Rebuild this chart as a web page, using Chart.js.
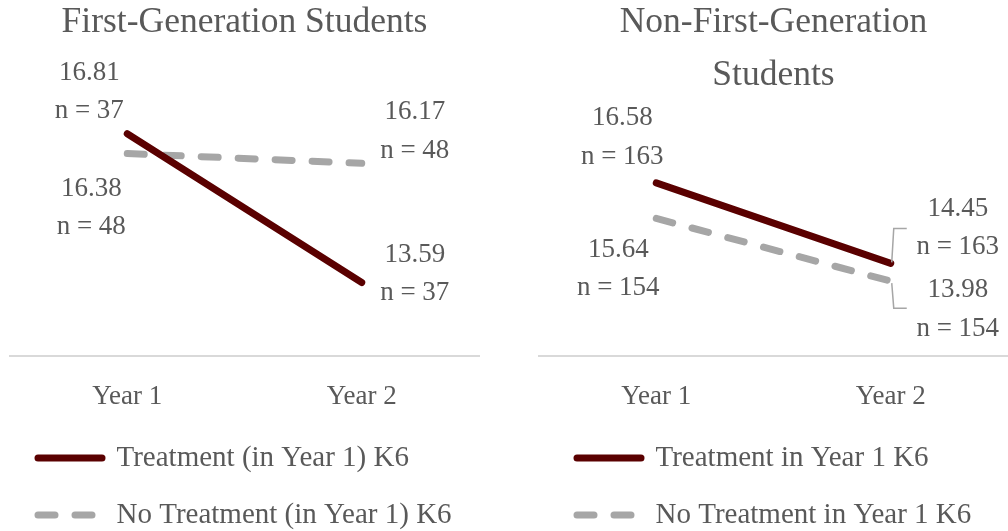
<!DOCTYPE html>
<html>
<head>
<meta charset="utf-8">
<script src="https://cdn.jsdelivr.net/npm/chart.js@4.4.1/dist/chart.umd.min.js"></script>
<style>
  body { margin: 0; background: #fff; }
  #wrap { position: relative; width: 1008px; height: 531px; }
  canvas { position: absolute; top: 0; }
  #leftChart { left: 0; }
  #rightChart { left: 504px; }
</style>
</head>
<body>
<div id="wrap">
  <canvas id="leftChart" width="504" height="531"></canvas>
  <canvas id="rightChart" width="504" height="531"></canvas>
</div>
<script>
// data
const years = ["Year 1", "Year 2"];

const firstGenTreat = [16.81, 13.59];
const firstGenTreatN = [37, 37];
const firstGenNoTreat = [16.38, 16.17];
const firstGenNoTreatN = [48, 48];

const nonFirstTreat = [16.58, 14.45];
const nonFirstTreatN = [163, 163];
const nonFirstNoTreat = [15.64, 13.98];
const nonFirstNoTreatN = [154, 154];

const textGray = "#595959";
const maroon = "#5a0000";
const dashGray = "#a6a6a6";
const serif = "'Liberation Serif', 'Times New Roman', Times, 'DejaVu Serif', 'Noto Serif', FreeSerif, serif";

Chart.defaults.font.family = serif;
Chart.defaults.color = textGray;

// value + n labels next to each point
const pointLabels = {
  id: "pointLabels",
  afterDatasetsDraw(chart, args, opts) {
    const ctx = chart.ctx;
    ctx.save();
    ctx.font = "27px " + serif;
    ctx.fillStyle = textGray;
    ctx.textAlign = "center";
    ctx.textBaseline = "middle";
    chart.data.datasets.forEach((ds, i) => {
      const meta = chart.getDatasetMeta(i);
      meta.data.forEach((pt, j) => {
        const off = opts.offsets[i][j];
        const x = pt.x + off[0];
        const y = pt.y + off[1];
        ctx.fillText(ds.data[j].toFixed(2), x, y);
        ctx.fillText("n = " + ds.counts[j], x, y + 38.5);
        if (off[2] !== undefined) {
          // leader bracket
          ctx.strokeStyle = dashGray;
          ctx.lineWidth = 1.5;
          ctx.beginPath();
          ctx.moveTo(pt.x + 1, pt.y + (off[2] < 0 ? -1 : 2));
          ctx.lineTo(pt.x + 3, pt.y + off[2]);
          ctx.lineTo(pt.x + 16, pt.y + off[2]);
          ctx.stroke();
        }
      });
    });
    ctx.restore();
  }
};

// nudges the legend sideways
const legendShift = {
  id: "legendShift",
  afterLayout(chart, args, opts) {
    if (opts.dx) {
      chart.legend.left += opts.dx;
      chart.legend.right += opts.dx;
    }
  }
};

function makeChart(el, title, treat, treatN, noTreat, noTreatN, labelNames, cfg) {
  return new Chart(el, {
    type: "line",
    data: {
      labels: years,
      datasets: [
        {
          label: labelNames[0],
          data: treat,
          counts: treatN,
          borderColor: maroon,
          borderWidth: 7,
          borderCapStyle: "round",
          pointRadius: 0,
          tension: 0,
        },
        {
          label: labelNames[1],
          data: noTreat,
          counts: noTreatN,
          borderColor: dashGray,
          borderWidth: 7,
          borderCapStyle: "round",
          borderDash: [17, 20],
          pointRadius: 0,
          tension: 0,
        },
      ],
    },
    options: {
      responsive: false,
      animation: false,
      devicePixelRatio: 1,
      layout: { padding: cfg.padding },
      scales: {
        x: {
          offset: true,
          grid: { display: false, drawTicks: false },
          border: { display: true, color: "#d9d9d9", width: 2 },
          ticks: { color: textGray, font: { size: 27, lineHeight: 1.5 }, padding: 21 },
          afterFit(scale) { scale.height = 59.5; },
        },
        y: { display: false, min: 12, max: 18 },
      },
      plugins: {
        title: {
          display: true,
          text: title,
          color: textGray,
          font: { size: 35.5, weight: "normal", lineHeight: 1.5 },
          padding: cfg.titlePad,
        },
        legend: {
          position: "bottom",
          align: "start",
          maxHeight: 115.5,
          labels: {
            usePointStyle: true,
            pointStyleWidth: 64,
            padding: 28,
            color: textGray,
            font: { size: 29 },
            generateLabels(chart) {
              return chart.data.datasets.map((ds, i) => ({
                text: ds.label,
                fillStyle: "transparent",
                strokeStyle: ds.borderColor,
                lineWidth: 7,
                lineCap: "round",
                lineDash: ds.borderDash || [],
                pointStyle: "line",
                fontColor: textGray,
                datasetIndex: i,
              }));
            },
          },
        },
        tooltip: { enabled: false },
        pointLabels: { offsets: cfg.offsets },
        legendShift: { dx: cfg.legendDx },
      },
    },
    plugins: [pointLabels, legendShift],
  });
}

makeChart(
  document.getElementById("leftChart"),
  "First-Generation Students",
  firstGenTreat, firstGenTreatN, firstGenNoTreat, firstGenNoTreatN,
  ["Treatment (in Year 1) K6", "No Treatment (in Year 1) K6"],
  {
    padding: { left: 10, right: 25, top: 0, bottom: 0 },
    titlePad: { top: -4, bottom: 29.5 },
    offsets: [
      [[-38, -61], [53, -28]],
      [[-36, 35], [53, -51]],
    ],
    legendDx: 0,
  }
);

makeChart(
  document.getElementById("rightChart"),
  ["Non-First-Generation", "Students"],
  nonFirstTreat, nonFirstTreatN, nonFirstNoTreat, nonFirstNoTreatN,
  ["Treatment in Year 1 K6", "No Treatment in Year 1 K6"],
  {
    padding: { left: 35, right: 0, top: 0, bottom: 0 },
    titlePad: { top: -4.25, bottom: 27 },
    offsets: [
      [[-34, -65], [67, -55, -35]],
      [[-38, 31], [67, 9, 27]],
    ],
    legendDx: 10,
  }
);
</script>
</body>
</html>
